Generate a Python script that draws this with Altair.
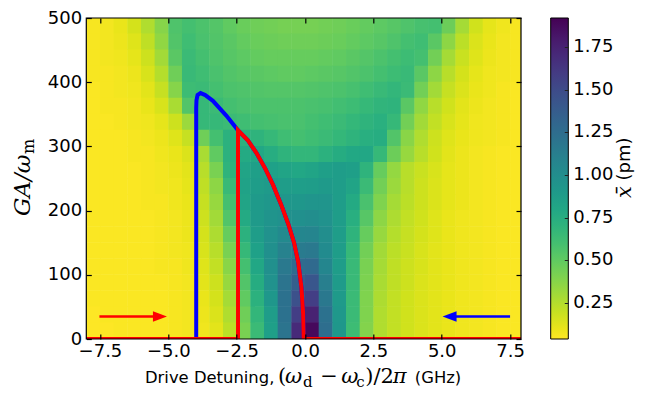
import altair as alt
import pandas as pd

# ---------------- values ----------------
# heat map of x̄ (pm): cells 0.5 GHz wide, 25 units tall (centres below)
det_centers = [-7.75, -7.25, -6.75, -6.25, -5.75, -5.25, -4.75, -4.25,
               -3.75, -3.25, -2.75, -2.25, -1.75, -1.25, -0.75, -0.25,
               0.25, 0.75, 1.25, 1.75, 2.25, 2.75, 3.25, 3.75,
               4.25, 4.75, 5.25, 5.75, 6.25, 6.75, 7.25, 7.75]
ga_centers = [487.5, 462.5, 437.5, 412.5, 387.5, 362.5, 337.5, 312.5, 287.5, 262.5,
              237.5, 212.5, 187.5, 162.5, 137.5, 112.5, 87.5, 62.5, 37.5, 12.5]

xbar_487 = [0.06,0.07,0.10,0.16,0.26,0.38,0.56,0.60, 0.57,0.54,0.50,0.47,0.45,0.44,0.43,0.43, 0.43,0.44,0.45,0.47,0.49,0.51,0.53,0.56,0.59,0.60,0.46,0.29,0.17,0.11,0.08,0.06]
xbar_462 = [0.06,0.07,0.09,0.13,0.22,0.35,0.55,0.62, 0.58,0.55,0.52,0.49,0.47,0.46,0.45,0.45, 0.45,0.46,0.47,0.49,0.51,0.53,0.56,0.60,0.62,0.52,0.36,0.23,0.14,0.10,0.07,0.06]
xbar_437 = [0.06,0.07,0.08,0.11,0.18,0.30,0.52,0.64, 0.60,0.56,0.53,0.51,0.49,0.48,0.48,0.48, 0.48,0.49,0.50,0.52,0.54,0.57,0.60,0.63,0.60,0.44,0.29,0.19,0.13,0.09,0.07,0.06]
xbar_412 = [0.06,0.06,0.07,0.09,0.15,0.25,0.45,0.65, 0.62,0.58,0.55,0.53,0.52,0.51,0.50,0.50, 0.51,0.52,0.53,0.55,0.57,0.60,0.63,0.65,0.52,0.36,0.24,0.16,0.11,0.08,0.07,0.06]
xbar_387 = [0.05,0.06,0.07,0.08,0.12,0.20,0.38,0.63, 0.64,0.60,0.57,0.56,0.55,0.54,0.54,0.54, 0.55,0.56,0.57,0.59,0.62,0.65,0.68,0.64,0.44,0.30,0.20,0.14,0.10,0.08,0.06,0.05]
xbar_362 = [0.05,0.06,0.06,0.07,0.10,0.15,0.28,0.55, 0.66,0.64,0.60,0.58,0.57,0.57,0.57,0.57, 0.58,0.59,0.61,0.63,0.66,0.69,0.70,0.52,0.35,0.24,0.17,0.12,0.09,0.07,0.06,0.05]
xbar_337 = [0.05,0.05,0.06,0.07,0.08,0.11,0.18,0.32, 0.66,0.66,0.64,0.62,0.60,0.59,0.58,0.58, 0.60,0.62,0.64,0.67,0.70,0.73,0.66,0.44,0.30,0.21,0.15,0.11,0.08,0.07,0.06,0.05]
xbar_312 = [0.05,0.05,0.05,0.06,0.07,0.09,0.13,0.20, 0.45,0.60,0.72,0.72,0.70,0.66,0.62,0.60, 0.62,0.64,0.67,0.70,0.74,0.75,0.55,0.37,0.26,0.18,0.13,0.10,0.08,0.07,0.06,0.05]
xbar_287 = [0.05,0.05,0.05,0.06,0.06,0.08,0.10,0.14, 0.28,0.50,0.72,0.78,0.80,0.75,0.70,0.68, 0.68,0.72,0.76,0.79,0.80,0.66,0.46,0.33,0.24,0.17,0.12,0.09,0.07,0.06,0.05,0.05]
xbar_262 = [0.05,0.05,0.05,0.05,0.06,0.07,0.09,0.12, 0.24,0.42,0.70,0.82,0.86,0.85,0.82,0.80, 0.82,0.86,0.88,0.86,0.70,0.48,0.34,0.24,0.19,0.15,0.11,0.09,0.07,0.06,0.05,0.05]
xbar_237 = [0.05,0.05,0.05,0.05,0.06,0.07,0.08,0.11, 0.22,0.36,0.65,0.84,0.88,0.90,0.88,0.87, 0.88,0.90,0.88,0.82,0.64,0.44,0.32,0.24,0.18,0.14,0.11,0.09,0.07,0.06,0.05,0.05]
xbar_212 = [0.05,0.05,0.05,0.05,0.06,0.06,0.08,0.10, 0.20,0.33,0.60,0.82,0.90,0.93,0.93,0.93, 0.94,0.94,0.88,0.78,0.58,0.40,0.29,0.23,0.18,0.14,0.11,0.09,0.07,0.06,0.05,0.05]
xbar_187 = [0.05,0.05,0.05,0.05,0.05,0.06,0.07,0.09, 0.18,0.30,0.55,0.78,0.90,0.95,0.98,0.99, 1.00,0.97,0.88,0.74,0.53,0.36,0.27,0.21,0.17,0.13,0.10,0.08,0.07,0.06,0.05,0.05]
xbar_162 = [0.05,0.05,0.05,0.05,0.05,0.06,0.07,0.09, 0.16,0.27,0.48,0.72,0.88,0.97,1.03,1.06, 1.07,1.00,0.88,0.70,0.48,0.33,0.25,0.20,0.16,0.13,0.10,0.08,0.07,0.06,0.05,0.05]
xbar_137 = [0.05,0.05,0.05,0.05,0.05,0.06,0.07,0.08, 0.15,0.24,0.42,0.66,0.85,0.99,1.10,1.15, 1.16,1.02,0.88,0.66,0.44,0.30,0.23,0.19,0.15,0.12,0.10,0.08,0.07,0.06,0.05,0.05]
xbar_112 = [0.05,0.05,0.05,0.05,0.05,0.06,0.06,0.08, 0.13,0.21,0.37,0.60,0.80,0.99,1.16,1.26, 1.28,1.06,0.88,0.65,0.42,0.29,0.22,0.18,0.15,0.12,0.10,0.08,0.07,0.06,0.05,0.05]
xbar_87  = [0.05,0.05,0.05,0.05,0.05,0.05,0.06,0.07, 0.12,0.18,0.33,0.55,0.76,0.97,1.20,1.36, 1.42,1.12,0.89,0.65,0.41,0.28,0.22,0.18,0.14,0.12,0.10,0.08,0.07,0.06,0.05,0.05]
xbar_62  = [0.05,0.05,0.05,0.05,0.05,0.05,0.06,0.07, 0.10,0.16,0.29,0.50,0.72,0.93,1.22,1.46, 1.58,1.17,0.90,0.64,0.40,0.27,0.21,0.17,0.14,0.12,0.10,0.08,0.07,0.06,0.05,0.05]
xbar_37  = [0.04,0.05,0.05,0.05,0.05,0.05,0.06,0.07, 0.09,0.14,0.26,0.45,0.68,0.88,1.22,1.58, 1.75,1.22,0.92,0.64,0.40,0.26,0.21,0.17,0.14,0.12,0.10,0.08,0.07,0.06,0.05,0.05]
xbar_12  = [0.04,0.04,0.05,0.05,0.05,0.05,0.06,0.07, 0.08,0.12,0.23,0.42,0.64,0.86,1.20,1.70, 1.88,1.25,0.93,0.63,0.39,0.26,0.21,0.17,0.14,0.12,0.10,0.08,0.07,0.06,0.05,0.05]

xbar_rows = [xbar_487, xbar_462, xbar_437, xbar_412, xbar_387, xbar_362, xbar_337,
             xbar_312, xbar_287, xbar_262, xbar_237, xbar_212, xbar_187, xbar_162,
             xbar_137, xbar_112, xbar_87, xbar_62, xbar_37, xbar_12]
cell_w, cell_h = 0.5, 25

# upper (bistable) branch, from the bottom up
branch_det = [-0.05, -0.07, -0.13, -0.25, -0.40, -0.62, -0.88, -1.17, -1.45, -1.78, -2.10, -2.45]
branch_ga = [0, 40, 80, 120, 150, 180, 210, 240, 265, 290, 310, 325]
# part followed only by the downward (blue) sweep
blue_top_det = [-2.88, -3.37, -3.65, -3.82, -3.93, -3.97, -3.98, -3.98]
blue_top_ga = [348, 371, 380, 383, 380, 372, 360, 0]
jump_det = -2.45
det_lo, det_hi = -8.0, 8.0

red_det = [det_lo, jump_det, jump_det] + branch_det[::-1] + [det_hi]
red_ga = [0, 0, 325] + branch_ga[::-1] + [0]
blue_det = [det_hi] + branch_det + blue_top_det + [det_lo]
blue_ga = [0] + branch_ga + blue_top_ga + [0]

# sweep-direction arrows
arrow_ga = 35
red_arrow_det = [-7.52, -5.05]
blue_arrow_det = [7.50, 5.03]

x_ticks = [-7.5, -5.0, -2.5, 0.0, 2.5, 5.0, 7.5]
y_ticks = [0, 100, 200, 300, 400, 500]
cb_ticks = [0.25, 0.50, 0.75, 1.00, 1.25, 1.50, 1.75]
cb_min, cb_max = 0.04, 1.92
x_domain = [-8.0, 7.9]
y_domain = [0, 500]

# ---------------- tables ----------------
heat_rows = []
for ga, row in zip(ga_centers, xbar_rows):
    for det, v in zip(det_centers, row):
        heat_rows.append({"d0": det - cell_w / 2, "d1": det + cell_w / 2,
                          "g0": ga - cell_h / 2, "g1": ga + cell_h / 2, "xbar": v})
heat_df = pd.DataFrame(heat_rows)
red_df = pd.DataFrame({"det": red_det, "ga": red_ga, "step": range(len(red_det))})
blue_df = pd.DataFrame({"det": blue_det, "ga": blue_ga, "step": range(len(blue_det))})
red_arrow_df = pd.DataFrame({"d0": [red_arrow_det[0]], "d1": [red_arrow_det[1]], "ga": [arrow_ga]})
blue_arrow_df = pd.DataFrame({"d0": [blue_arrow_det[0]], "d1": [blue_arrow_det[1]], "ga": [arrow_ga]})
cb_df = pd.DataFrame({"v": cb_ticks})

# ---------------- layout ----------------
W, H = 434.7, 321
PAD = {"left": 78.3, "top": 10, "right": 116, "bottom": 51}
RED, BLUE = "#ff0000", "#0000ff"

def xs():
    return alt.Scale(domain=x_domain, nice=False, zero=False)

def ys():
    return alt.Scale(domain=y_domain, nice=False, zero=False)

tick_style = dict(tickSize=5, tickWidth=1.2, tickColor="black", domain=False, grid=False,
                  offset=-5, zindex=2, labelFont="DejaVu Sans", labelFontSize=18,
                  labelColor="black", title=None)
ax_bottom = alt.Axis(orient="bottom", values=x_ticks, format=".1f", labelPadding=3, **tick_style)
ax_left = alt.Axis(orient="left", values=y_ticks, format="d", labelPadding=4.6, **tick_style)
ax_top = alt.Axis(orient="top", values=x_ticks, labels=False, **tick_style)
ax_right = alt.Axis(orient="right", values=y_ticks, labels=False, **tick_style)

cscale = alt.Scale(scheme="viridis", reverse=True, domain=[cb_min, cb_max])
cb_left, cb_thick = 464.4, 17.6

heat = alt.Chart(heat_df).mark_rect(clip=True, x2Offset=0.5, y2Offset=-0.5).encode(
    x=alt.X("d0:Q", scale=xs(), axis=ax_bottom),
    x2="d1:Q",
    y=alt.Y("g0:Q", scale=ys(), axis=ax_left),
    y2="g1:Q",
    color=alt.Color("xbar:Q", scale=cscale, legend=alt.Legend(
        type="gradient", orient="none", legendX=cb_left, legendY=0, direction="vertical",
        gradientLength=H, gradientThickness=cb_thick, gradientStrokeColor="black",
        gradientStrokeWidth=1, values=cb_ticks, format=".2f", labelFont="DejaVu Sans",
        labelFontSize=18, labelColor="black", labelOffset=5, labelOverlap=False,
        title=None, padding=0, zindex=0)),
)

blue_line = alt.Chart(blue_df).mark_line(color=BLUE, strokeWidth=4, clip=True).encode(
    x=alt.X("det:Q", scale=xs(), axis=None),
    y=alt.Y("ga:Q", scale=ys(), axis=None),
    order="step:Q",
)
red_line = alt.Chart(red_df).mark_line(color=RED, strokeWidth=4, clip=True).encode(
    x=alt.X("det:Q", scale=xs(), axis=ax_top),
    y=alt.Y("ga:Q", scale=ys(), axis=ax_right),
    order="step:Q",
)

head_right = "M -1 -0.75 L 1 0 L -1 0.75 Z"
head_left = "M 1 -0.75 L -1 0 L 1 0.75 Z"

def arrow(df, color, shape, off):
    shaft = alt.Chart(df).mark_rule(color=color, strokeWidth=2.5, x2Offset=-off).encode(
        x=alt.X("d0:Q", scale=xs(), axis=None), x2="d1:Q",
        y=alt.Y("ga:Q", scale=ys(), axis=None))
    head = alt.Chart(df).mark_point(shape=shape, size=196, filled=True, fill=color,
                                    strokeWidth=0, opacity=1, xOffset=-off).encode(
        x=alt.X("d1:Q", scale=xs(), axis=None),
        y=alt.Y("ga:Q", scale=ys(), axis=None))
    return [shaft, head]

frame = alt.Chart(alt.Data(values=[{}])).mark_rect(
    fillOpacity=0, stroke="black", strokeWidth=1.2).encode(
    x=alt.value(0), x2=alt.value(W), y=alt.value(0), y2=alt.value(H))

# colour-bar ticks (drawn from the colour-bar's own scale)
cb_axis = alt.Axis(orient="right", values=cb_ticks, labels=False, offset=cb_left + cb_thick - W - 4,
                   tickSize=4, tickWidth=1, tickColor="#222222", domain=False, grid=False,
                   zindex=3, title=None)
cb_layer = alt.Chart(cb_df).mark_point(opacity=0).encode(
    x=alt.value(cb_left),
    y=alt.Y("v:Q", scale=alt.Scale(domain=[cb_min, cb_max], nice=False, zero=False), axis=cb_axis),
)

def label(text, x, y, size, font="DejaVu Sans", style="normal", angle=0,
          align="left", baseline="alphabetic"):
    return alt.Chart(alt.Data(values=[{}])).mark_text(
        text=text, font=font, fontSize=size, fontStyle=style, angle=angle,
        align=align, baseline=baseline, color="black").encode(
        x=alt.value(x), y=alt.value(y))

TB = 364.5  # x-title baseline
SERIF = "DejaVu Serif"
texts = [
    label("Drive Detuning,", 58.7, TB, 16.4),
    label("(", 191.7, TB, 21, SERIF),
    label("ω", 198.7, TB, 21, SERIF, "italic"),
    label("d", 216.7, TB + 4, 15, SERIF),
    label("−", 234.0, TB, 21, SERIF),
    label("ω", 255.0, TB, 21, SERIF, "italic"),
    label("c", 270.0, TB + 4, 15, SERIF),
    label(")/2", 279.0, TB, 21, SERIF),
    label("π", 306.5, TB, 21, SERIF, "italic"),
    label("(GHz)", 328.5, TB, 16.4),
    label("GA/ω", -56.3, 198, 23, SERIF, "italic", angle=270),
    label("m", -52.5, 136, 16, SERIF, angle=270),
    label("(pm)", 538.5, 141, 18, angle=270, align="center", baseline="middle"),
    label("x\u0304", 538.5, 174, 21, SERIF, "italic", angle=270, align="center", baseline="middle"),
]

layers = [heat, blue_line, red_line] + arrow(red_arrow_df, RED, head_right, 7) \
    + arrow(blue_arrow_df, BLUE, head_left, -7) + [frame, cb_layer] + texts

chart = alt.layer(*layers).resolve_scale(
    x="independent", y="independent"
).resolve_axis(
    x="independent", y="independent"
).properties(
    width=W, height=H, padding=PAD, autosize=alt.AutoSizeParams(type="none"),
    background="white",
).configure_view(stroke="transparent")

chart.save("out.html", embed_options={"renderer": "svg", "actions": False})
